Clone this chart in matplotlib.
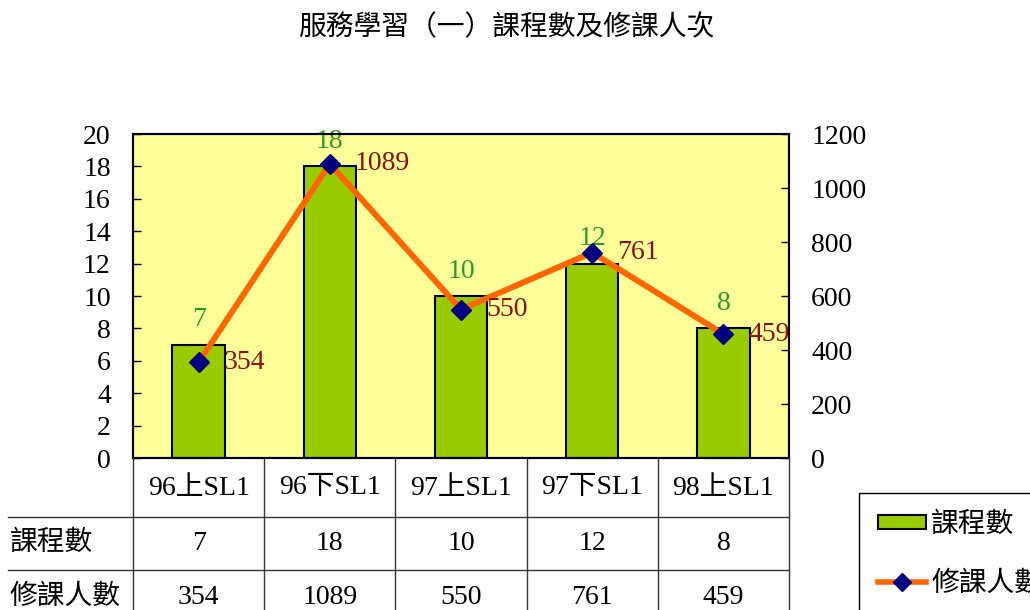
import matplotlib.pyplot as plt
import matplotlib.transforms as mtransforms
from matplotlib.lines import Line2D
from matplotlib.patches import Patch

plt.rcParams['font.family'] = ['Liberation Serif', 'Noto Sans CJK TC']
plt.rcParams['font.size'] = 20

# datos
categorias = ['96上SL1', '96下SL1', '97上SL1', '97下SL1', '98上SL1']
cursos = [7, 18, 10, 12, 8]
estudiantes = [354, 1089, 550, 761, 459]
titulo = '服務學習（一）課程數及修課人次'
filas = ['課程數', '修課人數']

W, H = 1030, 610


def fy(py):
    return 1 - py / H


fig = plt.figure(figsize=(W / 100, H / 100), dpi=100)
ax = fig.add_axes([133 / W, fy(458), (789 - 133) / W, (458 - 134) / H])
ax.set_facecolor('#FFFF99')

x = list(range(len(categorias)))
ax.bar(x, cursos, width=0.4, color='#99CC00', edgecolor='black', linewidth=1.5, zorder=2)
ax.set_xlim(-0.5, len(categorias) - 0.5)
ax.set_ylim(0, 20)
ax.set_yticks(range(0, 21, 2))
ax.set_xticks([])
ax.tick_params(axis='y', direction='in', length=6, width=1, pad=16, labelsize=20)
for s in ax.spines.values():
    s.set_linewidth(1.5)

for i, c in enumerate(cursos):
    ax.annotate(str(c), (i, c), xytext=(0, 9), textcoords='offset points',
                ha='center', va='bottom', color='#2E9A2E', fontsize=20)

ax2 = ax.twinx()
ax2.plot(x, estudiantes, color='#FF6600', lw=4.3, marker='D', markersize=10.5,
         markerfacecolor='#000080', markeredgecolor='#000080', zorder=3)
ax2.set_ylim(0, 1200)
ax2.set_yticks(range(0, 1201, 200))
ax2.tick_params(axis='y', direction='in', length=6, width=1, pad=16, labelsize=20)
for s in ax2.spines.values():
    s.set_linewidth(1.5)

for i, s in enumerate(estudiantes):
    ax2.annotate(str(s), (i, s), xytext=(18, 0), textcoords='offset points',
                 ha='left', va='center', color='#8B1010', fontsize=20)

# tabla de datos
tr = mtransforms.blended_transform_factory(ax.transData, fig.transFigure)
for i, c in enumerate(categorias):
    ax.text(i, fy(488), c, transform=tr, ha='center', va='center', clip_on=False)
    ax.text(i, fy(543), str(cursos[i]), transform=tr, ha='center', va='center', clip_on=False)
    ax.text(i, fy(597), str(estudiantes[i]), transform=tr, ha='center', va='center', clip_on=False)

fig.text(10 / W, fy(543), filas[0], ha='left', va='center')
fig.text(10 / W, fy(597), filas[1], ha='left', va='center')

for b in [i - 0.5 for i in range(len(categorias) + 1)]:
    fig.add_artist(Line2D([b, b], [fy(458), fy(630)], transform=tr, color='#333333', lw=1))
for py in [517, 570]:
    fig.add_artist(Line2D([8 / W, 789 / W], [fy(py), fy(py)], transform=fig.transFigure,
                          color='#333333', lw=1))

fig.text(506 / W, fy(28), titulo, ha='center', va='center', fontsize=20)

handles = [Patch(facecolor='#99CC00', edgecolor='black', lw=1.5),
           Line2D([], [], color='#FF6600', lw=4, marker='D', ms=9,
                  mfc='#000080', mec='#000080')]
leg = fig.legend(handles, filas, loc='upper left', bbox_to_anchor=(859 / W, fy(493)),
                 frameon=True, fancybox=False, edgecolor='black', framealpha=1,
                 borderaxespad=0, handlelength=1.7, handleheight=0.4,
                 labelspacing=1.2, handletextpad=0.2, borderpad=0.7, fontsize=20)
leg.get_frame().set_linewidth(1)

fig.savefig('out.png', dpi=100)
